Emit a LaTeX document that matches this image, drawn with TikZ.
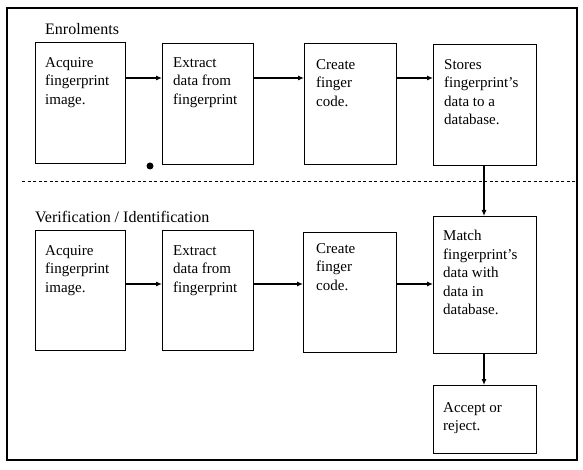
\documentclass[tikz,border=0pt]{standalone}
\usepackage{fontspec}
\setmainfont{Liberation Serif}
\usetikzlibrary{arrows.meta}
\begin{document}
\begin{tikzpicture}[x=1pt,y=-1pt,
  box/.style={draw, line width=1.1pt, inner sep=0pt, anchor=north west},
  txt/.style={anchor=north west, inner sep=0pt, align=left, font=\fontsize{15}{18.5}\selectfont},
  ttl/.style={anchor=base west, inner sep=0pt, font=\fontsize{16}{19}\selectfont},
  arr/.style={line width=1.1pt, -{Latex[length=6pt,width=5pt]}}]
\useasboundingbox (0,0) rectangle (583,470);
\draw[line width=1.1pt] (7,8) rectangle (577,460);
% Enrolments
\node[ttl] (lab1) at (45,35) {Enrolments};
\node[box, minimum width=90pt, minimum height=121pt] (e1) at (35,42) {};
\node[box, minimum width=91pt, minimum height=121pt] (e2) at (162,43) {};
\node[box, minimum width=92pt, minimum height=121pt] (e3) at (304,43) {};
\node[box, minimum width=103pt, minimum height=121pt] (e4) at (433,44) {};
\node[txt] (te1) at (45,57) {Acquire\\fingerprint\\image.};
\node[txt] (te2) at (173,57) {Extract\\data from\\fingerprint};
\node[txt] (te3) at (316,59) {Create\\finger\\code.};
\node[txt] (te4) at (444,59) {Stores\\fingerprint’s\\data to a\\database.};
\draw[arr] (e1.east |- 0,78) -- (e2.west |- 0,78);
\draw[arr] (e2.east |- 0,78) -- (e3.west |- 0,78);
\draw[arr] (e3.east |- 0,78) -- (e4.west |- 0,78);
% separator
\coordinate (s1) at (22,182);
\coordinate (s2) at (577,182);
\draw[line width=1pt, dash pattern=on 3pt off 2.5pt] (s1) -- (s2);
\fill (150,166) circle (3.5pt);
% Verification
\node[ttl] (lab2) at (35,223) {Verification / Identification};
\node[box, minimum width=90pt, minimum height=120pt] (v1) at (35,230) {};
\node[box, minimum width=91pt, minimum height=120pt] (v2) at (162,230) {};
\node[box, minimum width=93pt, minimum height=120pt] (v3) at (303,232) {};
\node[box, minimum width=103pt, minimum height=137pt] (v4) at (433,216) {};
\node[box, minimum width=103pt, minimum height=68pt] (v5) at (433,385) {};
\node[txt] (tv1) at (45,245) {Acquire\\fingerprint\\image.};
\node[txt] (tv2) at (173,245) {Extract\\data from\\fingerprint};
\node[txt] (tv3) at (316,243) {Create\\finger\\code.};
\node[txt] (tv4) at (443,230) {Match\\fingerprint’s\\data with\\data in\\database.};
\node[txt] (tv5) at (443,402) {Accept or\\reject.};
\draw[arr] (v1.east |- 0,284) -- (v2.west |- 0,284);
\draw[arr] (v2.east |- 0,284) -- (v3.west |- 0,284);
\draw[arr] (v3.east |- 0,284) -- (v4.west |- 0,284);
\draw[arr] (e4.south -| 484,0) -- (v4.north -| 484,0);
\draw[arr] (v4.south -| 484,0) -- (v5.north -| 484,0);
\end{tikzpicture}
\end{document}
